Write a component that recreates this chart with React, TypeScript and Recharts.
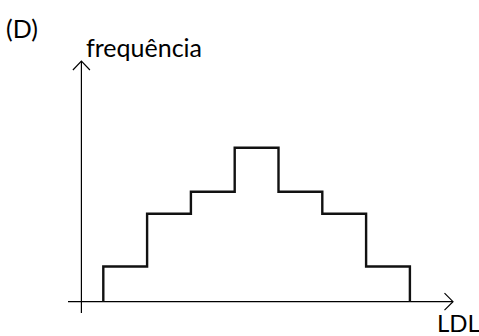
import React from "react";
import { LineChart, Line, XAxis, YAxis, ReferenceLine, Customized } from "recharts";

// Histogram bin edges (LDL classes) and frequencies per bin
const binEdges = [0, 1, 2, 3, 4, 5, 6, 7];
const frequencies = [1.6, 4, 5, 7, 5, 4, 1.6];
const panelLabel = "(D)";
const yTitle = "frequência";
const xTitle = "LDL";

// outline points for a stepAfter line
const outline = [
  { x: binEdges[0], y: 0 },
  ...frequencies.map((f, i) => ({ x: binEdges[i], y: f })),
  { x: binEdges[binEdges.length - 1], y: frequencies[frequencies.length - 1] },
  { x: binEdges[binEdges.length - 1], y: 0 },
];

const FONT = "Lato, 'Open Sans', sans-serif";

const ArrowUp = (p: any) => {
  const { x1, y1, y2 } = p;
  const top = Math.min(y1, y2);
  const bot = Math.max(y1, y2);
  return (
    <g stroke="#000" strokeWidth={1.2} fill="none">
      <line x1={x1} y1={bot} x2={x1} y2={top} />
      <polyline points={`${x1 - 8.5},${top + 9} ${x1},${top} ${x1 + 8.5},${top + 9}`} />
    </g>
  );
};

const ArrowRight = (p: any) => {
  const { x1, y1, x2 } = p;
  const left = Math.min(x1, x2);
  const right = Math.max(x1, x2);
  return (
    <g stroke="#000" strokeWidth={1.2} fill="none">
      <line x1={left} y1={y1} x2={right} y2={y1} />
      <polyline points={`${right - 8.5},${y1 - 8.5} ${right},${y1} ${right - 8.5},${y1 + 8.5}`} />
    </g>
  );
};

const Texts = () => (
  <g fontFamily={FONT} fill="#000">
    <text x={6} y={38} fontSize={25}>{panelLabel}</text>
    <text x={86} y={56.5} fontSize={25}>{yTitle}</text>
    <text x={437} y={332} fontSize={24}>{xTitle}</text>
  </g>
);

export default function App() {
  return (
    <div style={{ position: "absolute", left: 0, top: 0, width: 479, height: 336, background: "#fff" }}>
      <LineChart
        width={479}
        height={336}
        data={outline}
        margin={{ top: 61, right: 26, bottom: 23, left: 68 }}
      >
        <XAxis type="number" dataKey="x" domain={[-0.806, 7.984]} hide allowDataOverflow />
        <YAxis type="number" domain={[-0.514, 10.94]} hide allowDataOverflow />
        <ReferenceLine x={-0.5} shape={ArrowUp} />
        <ReferenceLine y={0} shape={ArrowRight} />
        <Line
          dataKey="y"
          type="stepAfter"
          stroke="#111"
          strokeWidth={2.4}
          dot={false}
          isAnimationActive={false}
        />
        <Customized component={Texts} />
      </LineChart>
    </div>
  );
}
